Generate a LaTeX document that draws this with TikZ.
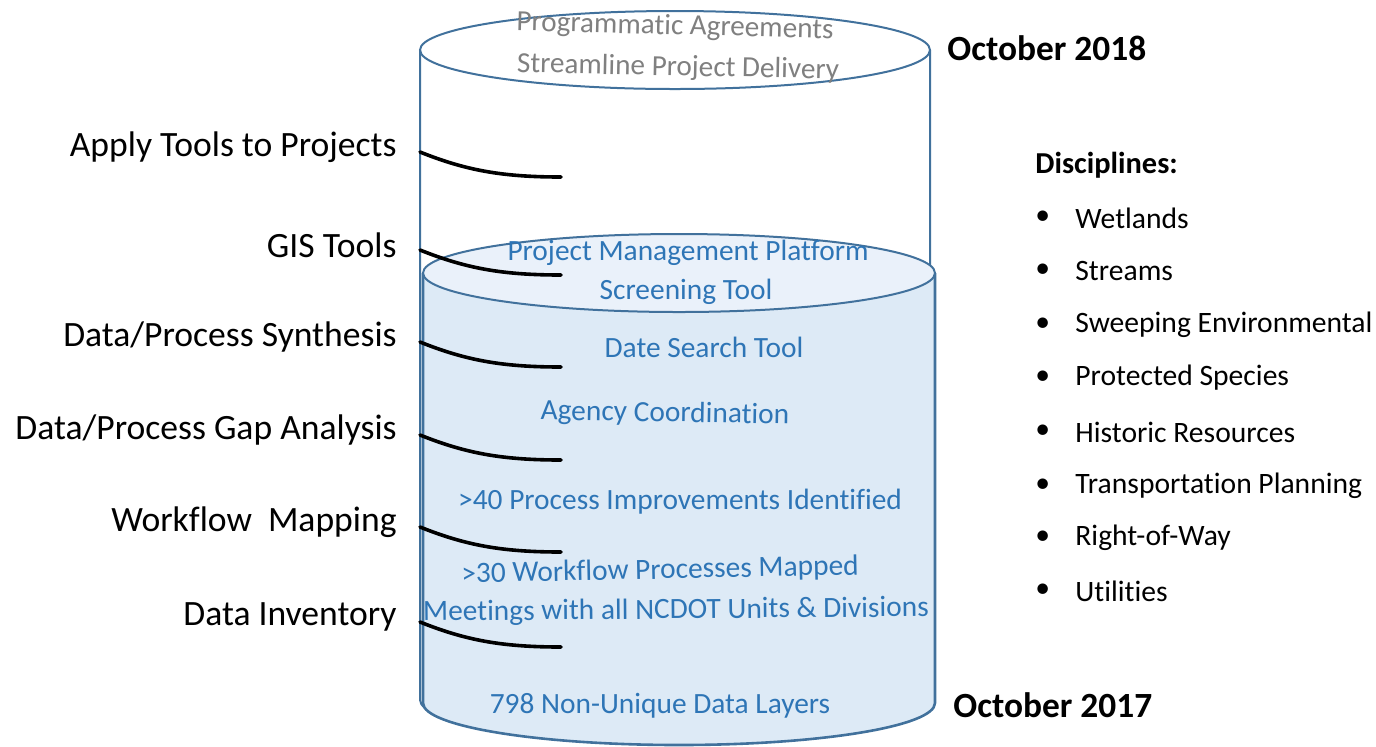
\documentclass[tikz,border=0pt]{standalone}
\usepackage{fontspec}
\setmainfont{Carlito}[Ligatures=NoCommon]
\usepackage{xcolor}
\usetikzlibrary{calc}

\definecolor{rim}{RGB}{65,113,156}
\definecolor{tank}{RGB}{221,234,246}
\definecolor{tanktop}{RGB}{234,241,250}
\definecolor{ink}{RGB}{46,117,182}
\definecolor{faded}{RGB}{128,128,128}

\tikzset{
  lbl/.style={anchor=east, inner sep=0pt, font=\fontsize{17.8}{20}\selectfont},
  note/.style={inner sep=0pt, text=ink, font=\fontsize{14.7}{17}\selectfont},
  goal/.style={inner sep=0pt, text=faded, font=\fontsize{14.6}{17}\selectfont},
  date/.style={anchor=west, inner sep=0pt, font=\fontsize{17.7}{20}\selectfont\bfseries},
  disc/.style={anchor=west, inner sep=0pt, font=\fontsize{14.8}{17}\selectfont},
  hook/.style={line width=1.8pt, line cap=round},
}

\begin{document}
\begin{tikzpicture}[x=0.5pt, y=-0.5pt]
  \useasboundingbox (0,0) rectangle (1376,746);

  % outer cylinder (target)
  \filldraw[rim, fill=white, line width=1pt] (420,50) -- (420,700)
    arc[start angle=180, end angle=0, x radius=255, y radius=40] -- (930,50);
  \draw[rim, line width=1pt] (675,50) ellipse[x radius=255, y radius=39];

  % inner cylinder (progress)
  \filldraw[rim, fill=tank, line width=1.3pt] (423,273) -- (423,703)
    arc[start angle=180, end angle=0, x radius=256, y radius=42] -- (935,273);
  \filldraw[rim, fill=tanktop, line width=1pt] (679,273) ellipse[x radius=256, y radius=39];

  % top of the target
  \node[goal, rotate=-1.5] (agree) at (675,27) {Programmatic Agreements};
  \node[goal, rotate=-1.2] (deliv) at (678,68) {Streamline Project Delivery};

  % inside the tank
  \node[note] (pmp)  at (688,253) {Project Management Platform};
  \node[note] (scr)  at (686,292) {Screening Tool};
  \node[note] (dst)  at (704,347) {Date Search Tool};
  \node[note, rotate=-1] (agc) at (665,414) {Agency Coordination};
  \node[note] (imp)  at (680,502) {>40 Process Improvements Identified};
  \node[note, rotate=1.2] (wfp) at (660,571) {>30 Workflow Processes Mapped};
  \node[note, rotate=0.5] (mtg) at (676,611) {Meetings with all NCDOT Units \& Divisions};
  \node[note] (lay)  at (660,706) {798 Non-Unique Data Layers};

  % steps (left)
  \foreach \x/\y/\t in
  {apply/147/{Apply Tools to Projects}, gis/245/{GIS Tools},
   synth/337/{Data/Process Synthesis}, gap/430/{Data/Process Gap Analysis},
   wflow/522/{Workflow\ \ Mapping}, inv/617/{Data Inventory}}{
    \node[lbl] (\x) at (397,\y) {\t};
    \coordinate (\x-a) at (420,\y+5);
    \coordinate (\x-b) at (561,\y+30);
    \draw[hook] (\x-a) .. controls ($(\x-a)+(45,18)$) and ($(\x-b)+(-60,0)$) .. (\x-b);
  }

  % dates
  \node[date] (top) at (947,48) {October 2018};
  \node[date] (bot) at (953,705) {October 2017};

  % disciplines
  \node[disc, font=\fontsize{15.2}{17}\selectfont\bfseries] (head) at (1035,165) {Disciplines:};
  \foreach \x/\y/\t in
  {d1/218/Wetlands, d2/271/Streams, d3/325/{Sweeping Environmental},
   d4/378/{Protected Species}, d5/432/{Historic Resources},
   d6/486/{Transportation Planning}, d7/538/Right-of-Way, d8/591/Utilities}{
    \node[disc] (\x-dot) at (1035,\y) {•};
    \node[disc] (\x) at (1075,\y) {\t};
  }
\end{tikzpicture}
\end{document}
